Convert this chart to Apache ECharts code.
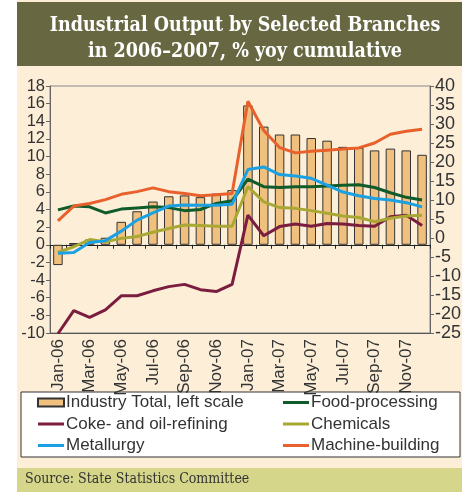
<!DOCTYPE html>
<html>
<head>
<meta charset="utf-8">
<script src="https://cdn.jsdelivr.net/npm/echarts@6/dist/echarts.min.js"></script>
<style>
  html, body { margin: 0; padding: 0; background: #fff; }
  #chart { width: 468px; height: 492px; }
</style>
</head>
<body>
<div id="chart"></div>
<script>
// months
var months = ["Jan-06","Feb-06","Mar-06","Apr-06","May-06","Jun-06","Jul-06","Aug-06","Sep-06","Oct-06","Nov-06","Dec-06",
              "Jan-07","Feb-07","Mar-07","Apr-07","May-07","Jun-07","Jul-07","Aug-07","Sep-07","Oct-07","Nov-07","Dec-07"];
// left scale
var industryTotal = [-2.3, 0.2, 0.6, 0.8, 2.6, 3.8, 4.9, 5.5, 5.6, 5.4, 5.8, 6.2,
                     15.8, 13.4, 12.5, 12.5, 12.1, 11.8, 11.1, 11.0, 10.7, 10.9, 10.7, 10.2];
// right scale
var foodProcessing = [7.4, 8.4, 8.2, 6.6, 7.6, 7.9, 8.2, 8.0, 7.2, 7.5, 9.1, 9.8,
                      15.5, 13.5, 13.3, 13.5, 13.5, 13.7, 13.9, 14.0, 13.3, 11.9, 10.7, 10.0];
var cokeOil = [-25.2, -19.1, -20.9, -18.9, -15.2, -15.2, -13.9, -12.8, -12.2, -13.6, -14.1, -12.2,
               6.0, 0.6, 3.0, 3.7, 3.1, 3.8, 3.7, 3.3, 3.1, 5.6, 6.0, 3.3];
var chemicals = [-3.8, -2.3, -0.4, -1.0, -0.1, 0.4, 1.5, 2.5, 3.4, 3.3, 3.1, 3.1,
                 13.5, 9.5, 8.0, 7.8, 7.2, 6.5, 5.8, 5.4, 4.3, 5.2, 5.8, 6.0];
var metallurgy = [-4.0, -3.8, -1.2, -0.7, 1.8, 4.7, 6.6, 8.4, 8.7, 8.6, 8.6, 8.9,
                  18.0, 18.7, 16.7, 16.3, 15.7, 13.9, 12.1, 11.1, 10.4, 10.0, 9.3, 8.2];
var machineBuilding = [4.5, 8.4, 9.1, 10.1, 11.5, 12.2, 13.2, 12.2, 11.7, 11.1, 11.4, 11.7,
                       36.0, 28.3, 23.8, 22.4, 22.8, 23.1, 23.4, 23.7, 25.0, 27.3, 28.1, 28.6];

var font = "'Liberation Sans Narrow', 'Liberation Sans', sans-serif";
var lineIcon = "path://M0,0 h26 v3 h-26z";
var myChart = echarts.init(document.getElementById("chart"));

function lineSeries(name, data, color) {
  return {
    name: name,
    type: "line",
    yAxisIndex: 1,
    data: data,
    symbol: "none",
    lineStyle: { color: color, width: 3 },
    itemStyle: { color: color },
    z: 3
  };
}

var legendBase = {
  orient: "vertical",
  top: 394,
  padding: 0,
  itemWidth: 26,
  itemHeight: 14,
  itemGap: 4.5,
  textStyle: { fontFamily: font, fontSize: 17, color: "#333", padding: [0, 0, 0, -3] }
};

var yLabel = { fontFamily: font, fontSize: 16.5, color: "#333", margin: 5, showMinLabel: true, showMaxLabel: true };

myChart.setOption({
  backgroundColor: "#fff",
  animation: false,
  graphic: [
    // card background
    { type: "rect", shape: { x: 17, y: 0, width: 445, height: 492 }, style: { fill: "#fdeed8" }, z: -10 },
    // title band
    { type: "rect", shape: { x: 17, y: 2, width: 445, height: 64 }, style: { fill: "#676841" }, z: -9 },
    // legend box
    { type: "rect", shape: { x: 21, y: 392, width: 439, height: 65 }, style: { fill: "#fff", stroke: "#333", lineWidth: 1 }, z: -9 },
    // source band
    { type: "rect", shape: { x: 17, y: 468, width: 445, height: 24 }, style: { fill: "#d5d68a" }, z: -9 },
    {
      type: "text", left: 25, top: 472,
      style: { text: "Source: State Statistics Committee", fill: "#333", font: "14px 'DejaVu Serif Condensed', 'Liberation Serif', serif" }
    }
  ],
  title: {
    text: "Industrial Output by Selected Branches\nin 2006\u20132007, % yoy cumulative",
    left: 240,
    textAlign: "center",
    top: 8,
    textStyle: {
      color: "#fff",
      fontFamily: "'DejaVu Serif Condensed', 'Liberation Serif', serif",
      fontWeight: "bold",
      fontSize: 19.5,
      lineHeight: 26
    }
  },
  legend: [
    Object.assign({}, legendBase, {
      left: 37,
      data: [
        { name: "Industry Total, left scale", icon: "path://M0,0 h26 v8 h-26z" },
        { name: "Coke- and oil-refining", icon: lineIcon },
        { name: "Metallurgy", icon: lineIcon }
      ]
    }),
    Object.assign({}, legendBase, {
      left: 283,
      data: [
        { name: "Food-processing", icon: lineIcon },
        { name: "Chemicals", icon: lineIcon },
        { name: "Machine-building", icon: lineIcon }
      ]
    })
  ],
  grid: {
    left: 50,
    right: 38,
    top: 86,
    bottom: 159,
    show: true,
    borderColor: "#888",
    borderWidth: 1,
    backgroundColor: "transparent"
  },
  xAxis: [
    {
      type: "category",
      data: months,
      position: "bottom",
      axisLine: { onZero: false, lineStyle: { color: "#555" } },
      axisTick: { show: false },
      axisLabel: {
        rotate: 90,
        interval: 1,
        fontFamily: font,
        fontSize: 17,
        color: "#333",
        margin: 6
      }
    },
    {
      type: "category",
      data: months,
      position: "bottom",
      axisLine: { onZero: true, onZeroAxisIndex: 0, lineStyle: { color: "#222" } },
      axisTick: { show: true, interval: 0, length: 4, lineStyle: { color: "#222" } },
      axisLabel: { show: false }
    }
  ],
  yAxis: [
    {
      type: "value",
      min: -10,
      max: 18,
      interval: 2,
      splitLine: { show: false },
      axisLine: { show: true, lineStyle: { color: "#666" } },
      axisTick: { show: true, length: 4, lineStyle: { color: "#666" } },
      axisLabel: yLabel
    },
    {
      type: "value",
      min: -25,
      max: 40,
      interval: 5,
      splitLine: { show: false },
      axisLine: { show: true, lineStyle: { color: "#666" } },
      axisTick: { show: true, length: 4, lineStyle: { color: "#666" } },
      axisLabel: { fontFamily: font, fontSize: 18, color: "#333", margin: 5, showMinLabel: true, showMaxLabel: true }
    }
  ],
  series: [
    {
      name: "Industry Total, left scale",
      type: "bar",
      data: industryTotal,
      barWidth: "60%",
      itemStyle: { color: "#efc07e", borderColor: "#333", borderWidth: 1 },
      z: 2
    },
    lineSeries("Coke- and oil-refining", cokeOil, "#7b1d3f"),
    lineSeries("Chemicals", chemicals, "#a9a834"),
    lineSeries("Food-processing", foodProcessing, "#0f5b2a"),
    lineSeries("Metallurgy", metallurgy, "#1ba1e2"),
    lineSeries("Machine-building", machineBuilding, "#e8602c")
  ]
});
</script>
</body>
</html>
